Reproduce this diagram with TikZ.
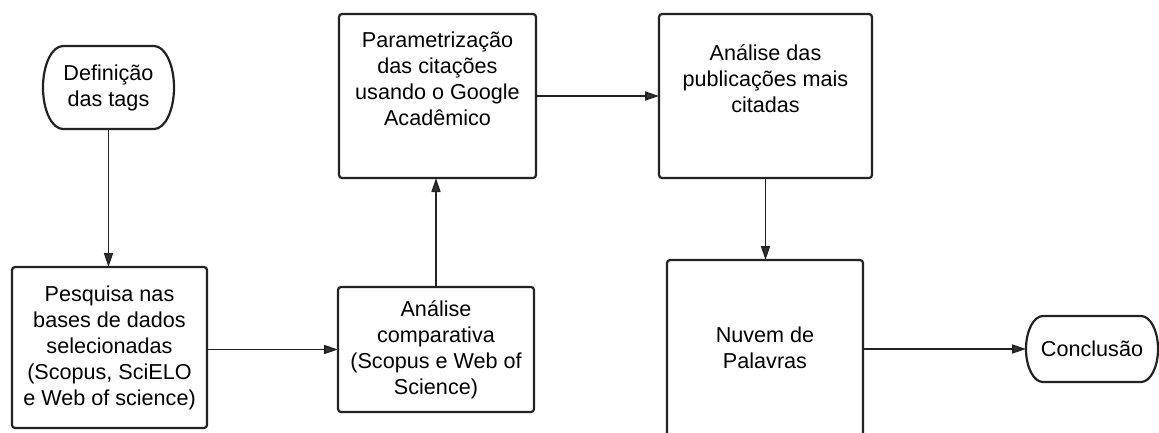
\documentclass[tikz,border=0pt]{standalone}
\usepackage{fontspec}
\setmainfont{Liberation Sans}
\usetikzlibrary{arrows.meta}
\definecolor{ink}{HTML}{222222}
\definecolor{tipgray}{HTML}{333333}
\tikzset{
  procbox/.style={draw=ink, line width=2.2pt, rounded corners=3pt, align=center,
    inner sep=0pt, outer sep=0pt, text=black,
    font=\fontsize{21.6pt}{26pt}\selectfont},
  termtext/.style={inner sep=0pt, outer sep=0pt, align=center, text=black,
    font=\fontsize{21.6pt}{26pt}\selectfont},
  termline/.style={draw=ink, line width=2.2pt},
  flow/.style={draw=ink, line width=1.5pt,
    -{Triangle[length=14pt,width=9pt,fill=tipgray]}},
}
\begin{document}
\begin{tikzpicture}[x=1pt,y=-1pt]
\clip (0,0) rectangle (1159,432);
\fill[white] (0,0) rectangle (1159,432);

% nodes
\node[termtext, minimum width=131pt, minimum height=83pt] (def) at (108.5,87.5) {Definição\\das tags};
\node[procbox, minimum width=195pt, minimum height=161pt] (pes) at (109.5,347.5)
  {Pesquisa nas\\bases de dados\\selecionadas\\(Scopus, SciELO\\e Web of science)};
\node[procbox, minimum width=196pt, minimum height=125pt] (comp) at (436,349.5)
  {Análise\\comparativa\\(Scopus e Web of\\Science)};
\node[procbox, minimum width=197pt, minimum height=164pt] (param) at (437.5,96)
  {Parametrização\\das citações\\usando o Google\\Acadêmico\\[8pt]};
\node[procbox, minimum width=213pt, minimum height=164pt] (pub) at (765.5,96)
  {Análise das\\publicações mais\\citadas\\[8pt]};
\node[procbox, minimum width=196pt, minimum height=176pt] (nuv) at (765,348)
  {Nuvem de\\Palavras};
\node[termtext, minimum width=132pt, minimum height=66pt] (conc) at (1092,349) {Conclusão};

% terminator outlines
\draw[termline] ([xshift=20pt]def.north west) -- ([xshift=-20pt]def.north east)
  arc[start angle=90, end angle=-90, x radius=20pt, y radius=41.5pt]
  -- ([xshift=20pt]def.south west)
  arc[start angle=270, end angle=90, x radius=20pt, y radius=41.5pt] -- cycle;
\draw[termline] ([xshift=17pt]conc.north west) -- ([xshift=-17pt]conc.north east)
  arc[start angle=90, end angle=-90, x radius=17pt, y radius=33pt]
  -- ([xshift=17pt]conc.south west)
  arc[start angle=270, end angle=90, x radius=17pt, y radius=33pt] -- cycle;

% connectors
\draw[flow] (def.south) -- (def.south |- pes.north);
\draw[flow] (pes.east |- comp.west) -- (comp.west);
\draw[flow] (comp.north) -- (comp.north |- param.south);
\draw[flow] (param.east |- pub.west) -- (pub.west);
\draw[flow] (pub.south) -- (pub.south |- nuv.north);
\draw[flow] (nuv.east |- conc.west) -- (conc.west);
\end{tikzpicture}
\end{document}
